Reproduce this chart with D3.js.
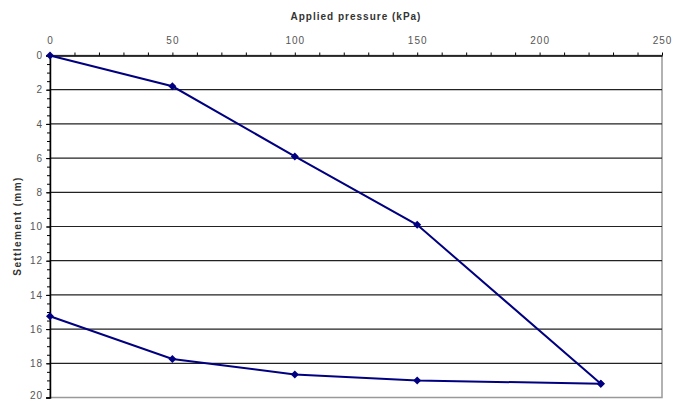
<!DOCTYPE html>
<html>
<head>
<meta charset="utf-8">
<script src="https://cdn.jsdelivr.net/npm/d3@7"></script>
<style>
  body { margin: 0; background: #fff; }
  text { font-family: "Liberation Sans", Arial, sans-serif; }
</style>
</head>
<body>
<div id="chart"></div>
<script>
// applied pressure (kPa) and settlement (mm)
var loadPressure = [0, 50, 100, 150, 225];
var loadSettlement = [0, 1.8, 5.9, 9.9, 19.2];
var unloadPressure = [225, 150, 100, 50, 0];
var unloadSettlement = [19.2, 19.0, 18.65, 17.75, 15.25];
var xTicks = [0, 50, 100, 150, 200, 250];
var yTicks = [0, 2, 4, 6, 8, 10, 12, 14, 16, 18, 20];

var W = 683, H = 401;
var margin = { top: 55.5, right: 21, bottom: 3.5, left: 50 };

var svg = d3.select("#chart").append("svg")
  .attr("width", W)
  .attr("height", H);

var x = d3.scaleLinear().domain([0, 250]).range([margin.left, W - margin.right]);
var y = d3.scaleLinear().domain([0, 20]).range([margin.top, H - margin.bottom]);

// plot frame (right and bottom in grey)
svg.append("rect")
  .attr("x", x(0)).attr("y", y(0))
  .attr("width", x(250) - x(0)).attr("height", y(20) - y(0))
  .attr("fill", "#fff")
  .attr("stroke", "#999").attr("stroke-width", 1.5);

// horizontal gridlines
svg.append("g").selectAll("line")
  .data(yTicks.filter(function(d){ return d > 0 && d < 20; }))
  .enter().append("line")
  .attr("x1", x(0)).attr("x2", x(250))
  .attr("y1", function(d){ return y(d); })
  .attr("y2", function(d){ return y(d); })
  .attr("stroke", "#222").attr("stroke-width", 1.2);

// top axis
var xAxis = svg.append("g")
  .attr("transform", "translate(0," + y(0) + ")");
xAxis.append("g")
  .call(d3.axisTop(x).tickValues(d3.range(0, 251, 10)).tickSize(3).tickFormat(""))
  .call(function(g){ g.select(".domain").remove(); })
  .selectAll("line").attr("stroke", "#000");
xAxis.append("g")
  .call(d3.axisTop(x).tickValues(xTicks).tickSize(0).tickPadding(12))
  .call(function(g){
    g.select(".domain").attr("stroke", "#000").attr("stroke-width", 1.5);
    g.selectAll("text").attr("fill", "#555")
      .style("font-size", "10px").style("letter-spacing", "1px");
  });

// left axis
var yAxis = svg.append("g")
  .attr("transform", "translate(" + x(0) + ",0)");
yAxis.append("g")
  .call(d3.axisLeft(y).tickValues(d3.range(0, 20.01, 0.5)).tickSize(3).tickFormat(""))
  .call(function(g){ g.select(".domain").remove(); })
  .selectAll("line").attr("stroke", "#000");
yAxis.append("g")
  .call(d3.axisLeft(y).tickValues(yTicks).tickSize(4).tickPadding(3))
  .call(function(g){
    g.select(".domain").attr("stroke", "#000").attr("stroke-width", 1.5);
    g.selectAll("line").attr("stroke", "#000");
    g.selectAll("text").attr("fill", "#555")
      .style("font-size", "10px").style("letter-spacing", "1px")
      .attr("dy", function(d){ return d === 20 ? "0.1em" : "0.32em"; });
  });

// axis titles
svg.append("text")
  .attr("x", (x(0) + x(250)) / 2).attr("y", 20)
  .attr("text-anchor", "middle")
  .style("font-size", "10px").style("font-weight", "bold")
  .style("letter-spacing", "1px")
  .attr("fill", "#333")
  .text("Applied pressure (kPa)");

svg.append("text")
  .attr("transform", "translate(21,226) rotate(-90)")
  .attr("text-anchor", "middle")
  .style("font-size", "10px").style("font-weight", "bold")
  .style("letter-spacing", "1.4px")
  .attr("fill", "#333")
  .text("Settlement (mm)");

// series
var series = [
  { p: loadPressure, s: loadSettlement },
  { p: unloadPressure, s: unloadSettlement }
];
var line = d3.line()
  .x(function(d){ return x(d[0]); })
  .y(function(d){ return y(d[1]); });
var marker = d3.symbol().type(d3.symbolSquare).size(32);

series.forEach(function(sr){
  var pts = d3.zip(sr.p, sr.s);
  svg.append("path")
    .datum(pts)
    .attr("d", line)
    .attr("fill", "none")
    .attr("stroke", "#000080")
    .attr("stroke-width", 2);
  svg.append("g").selectAll("path")
    .data(pts)
    .enter().append("path")
    .attr("d", marker)
    .attr("transform", function(d){ return "translate(" + x(d[0]) + "," + y(d[1]) + ") rotate(45)"; })
    .attr("fill", "#000080");
});
</script>
</body>
</html>
